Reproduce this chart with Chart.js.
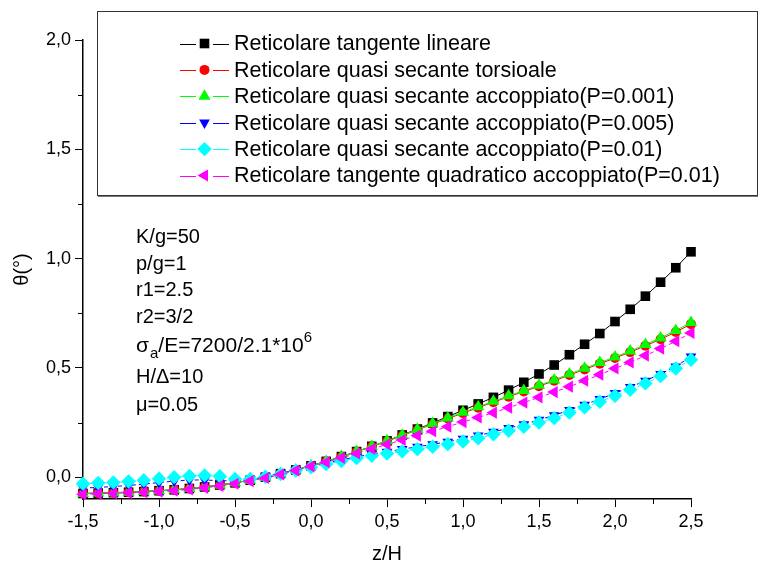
<!DOCTYPE html>
<html>
<head>
<meta charset="utf-8">
<script src="https://cdn.jsdelivr.net/npm/chart.js@4/dist/chart.umd.min.js"></script>
<style>
  html, body { margin: 0; padding: 0; background: #fff; }
  canvas { display: block; }
</style>
</head>
<body>
<canvas id="thetaChart" width="768" height="569"></canvas>
<script>
// z/H positions
const zH = [-1.5, -1.4, -1.3, -1.2, -1.1, -1.0, -0.9, -0.8, -0.7, -0.6, -0.5, -0.4, -0.3, -0.2, -0.1,
  0.0, 0.1, 0.2, 0.3, 0.4, 0.5, 0.6, 0.7, 0.8, 0.9, 1.0, 1.1, 1.2, 1.3, 1.4, 1.5,
  1.6, 1.7, 1.8, 1.9, 2.0, 2.1, 2.2, 2.3, 2.4, 2.5];

// theta (deg) per model
const tangenteLineare = [-0.075, -0.073, -0.071, -0.069, -0.066, -0.062, -0.058, -0.052, -0.045, -0.036, -0.026, -0.014, 0.000, 0.016, 0.033,
  0.052, 0.072, 0.094, 0.117, 0.141, 0.166, 0.193, 0.220, 0.248, 0.277, 0.306, 0.335, 0.365, 0.398, 0.434, 0.472,
  0.513, 0.560, 0.608, 0.657, 0.712, 0.768, 0.828, 0.892, 0.958, 1.031];
const secanteTorsionale = [-0.075, -0.073, -0.071, -0.069, -0.066, -0.062, -0.058, -0.052, -0.045, -0.036, -0.026, -0.014, 0.000, 0.016, 0.033,
  0.052, 0.072, 0.093, 0.116, 0.140, 0.164, 0.190, 0.216, 0.242, 0.268, 0.293, 0.318, 0.343, 0.368, 0.392, 0.416,
  0.441, 0.467, 0.493, 0.519, 0.545, 0.572, 0.601, 0.631, 0.664, 0.700];
const secanteP0001 = [-0.075, -0.073, -0.071, -0.069, -0.066, -0.062, -0.058, -0.052, -0.045, -0.036, -0.026, -0.014, 0.000, 0.016, 0.033,
  0.052, 0.072, 0.094, 0.117, 0.141, 0.166, 0.192, 0.218, 0.245, 0.271, 0.297, 0.322, 0.347, 0.372, 0.396, 0.420,
  0.445, 0.472, 0.498, 0.524, 0.550, 0.577, 0.607, 0.637, 0.671, 0.707];
const secanteP0005 = [-0.050, -0.047, -0.043, -0.038, -0.032, -0.025, -0.018, -0.013, -0.013, -0.016, -0.018, -0.010, 0.002, 0.016, 0.032,
  0.048, 0.064, 0.079, 0.093, 0.105, 0.116, 0.128, 0.139, 0.150, 0.162, 0.175, 0.190, 0.207, 0.224, 0.242, 0.262,
  0.283, 0.307, 0.331, 0.357, 0.384, 0.412, 0.441, 0.472, 0.506, 0.552];
const secanteP001 = [-0.030, -0.027, -0.024, -0.020, -0.014, -0.007, 0.000, 0.005, 0.008, 0.004, -0.008, -0.008, 0.002, 0.014, 0.030,
  0.045, 0.060, 0.074, 0.087, 0.098, 0.108, 0.118, 0.128, 0.139, 0.151, 0.163, 0.178, 0.196, 0.212, 0.230, 0.250,
  0.270, 0.295, 0.319, 0.345, 0.372, 0.400, 0.429, 0.462, 0.497, 0.537];
const quadraticoP001 = [-0.078, -0.076, -0.074, -0.072, -0.069, -0.066, -0.062, -0.056, -0.049, -0.040, -0.030, -0.018, -0.004, 0.012, 0.030,
  0.049, 0.068, 0.088, 0.108, 0.129, 0.150, 0.170, 0.190, 0.210, 0.231, 0.252, 0.273, 0.295, 0.318, 0.341, 0.365,
  0.389, 0.414, 0.441, 0.469, 0.497, 0.525, 0.556, 0.588, 0.622, 0.660];

const seriesNames = [
  "Reticolare tangente lineare",
  "Reticolare quasi secante torsioale",
  "Reticolare quasi secante accoppiato(P=0.001)",
  "Reticolare quasi secante accoppiato(P=0.005)",
  "Reticolare quasi secante accoppiato(P=0.01)",
  "Reticolare tangente quadratico accoppiato(P=0.01)"
];
const seriesValues = [tangenteLineare, secanteTorsionale, secanteP0001, secanteP0005, secanteP001, quadraticoP001];
const seriesColors = ["#000000", "#ff0000", "#00ff00", "#0000ff", "#00ffff", "#ff00ff"];
// marker: [pointStyle, radius, rotation]
const seriesMarkers = [["rect", 6.8, 0], ["circle", 5, 0], ["triangle", 7, 0], ["triangle", 6.2, 180], ["rectRot", 7.2, 0], ["triangle", 7, 270]];
const seriesDash = [[], [], [], [4, 3], [4, 3], [4, 3]];

const paramLines = ["K/g=50", "p/g=1", "r1=2.5", "r2=3/2", "SIGMA", "H/\u0394=10", "\u03bc=0.05"];

const FONT = "'Liberation Sans', Arial, sans-serif";
const commaLabel = v => v.toFixed(1).replace(".", ",");

function drawMarker(ctx, style, r, rot, x, y, color) {
  ctx.save();
  ctx.fillStyle = color;
  ctx.translate(x, y);
  ctx.rotate(rot * Math.PI / 180);
  ctx.beginPath();
  if (style === "circle") {
    ctx.arc(0, 0, r, 0, Math.PI * 2);
  } else if (style === "rect") {
    const s = r * Math.SQRT1_2;
    ctx.rect(-s, -s, 2 * s, 2 * s);
  } else if (style === "rectRot") {
    ctx.moveTo(0, -r); ctx.lineTo(r, 0); ctx.lineTo(0, r); ctx.lineTo(-r, 0);
  } else {
    const h = r * 1.5, w = r * Math.sqrt(3) / 2;
    ctx.moveTo(0, -r); ctx.lineTo(w, h - r); ctx.lineTo(-w, h - r);
  }
  ctx.closePath();
  ctx.fill();
  ctx.restore();
}

const minorTicks = {
  id: "minorTicks",
  afterDraw(chart) {
    const ctx = chart.ctx;
    ctx.save();
    ctx.strokeStyle = "#000";
    ctx.lineWidth = 1;
    const xs = chart.scales.x, ys = chart.scales.y;
    const xt = xs.ticks.map(t => t.value), yt = ys.ticks.map(t => t.value);
    ctx.beginPath();
    for (let i = 0; i < xt.length - 1; i++) {
      const px = Math.round(xs.getPixelForValue((xt[i] + xt[i + 1]) / 2)) + 0.5;
      ctx.moveTo(px, xs.top); ctx.lineTo(px, xs.top + 5);
    }
    for (let i = 0; i < yt.length - 1; i++) {
      const py = Math.round(ys.getPixelForValue((yt[i] + yt[i + 1]) / 2)) + 0.5;
      ctx.moveTo(ys.right, py); ctx.lineTo(ys.right - 5, py);
    }
    ctx.stroke();
    ctx.restore();
  }
};

const legendBox = {
  id: "legendBox",
  afterDraw(chart) {
    const ctx = chart.ctx;
    ctx.save();
    ctx.fillStyle = "#fff";
    ctx.fillRect(97, 11, 660, 184);
    ctx.strokeStyle = "#333";
    ctx.lineWidth = 1;
    ctx.strokeRect(97.5, 11.5, 660, 184);
    ctx.strokeStyle = "#777";
    ctx.beginPath();
    ctx.moveTo(98, 196.5); ctx.lineTo(758, 196.5);
    ctx.stroke();
    ctx.font = "21.5px " + FONT;
    ctx.textBaseline = "middle";
    seriesNames.forEach((name, i) => {
      const y = 43.5 + i * 26.4;
      const ly = Math.round(y) + 0.5;
      ctx.strokeStyle = seriesColors[i];
      ctx.beginPath();
      ctx.moveTo(180, ly); ctx.lineTo(196, ly);
      ctx.moveTo(213, ly); ctx.lineTo(229, ly);
      ctx.stroke();
      const m = seriesMarkers[i];
      drawMarker(ctx, m[0], m[1], m[2], 204.5, y, seriesColors[i]);
      ctx.fillStyle = "#000";
      ctx.fillText(name, 234, y + 1);
    });
    ctx.restore();
  }
};

const paramText = {
  id: "paramText",
  afterDraw(chart) {
    const ctx = chart.ctx;
    const ys = [237, 264, 290, 317, 346, 377, 405];
    ctx.save();
    ctx.fillStyle = "#000";
    ctx.textBaseline = "middle";
    paramLines.forEach((line, i) => {
      ctx.font = "20px " + FONT;
      let x = 136;
      if (line === "SIGMA") {
        ctx.font = "21px " + FONT;
        ctx.fillText("\u03c3", x, ys[i]); x += ctx.measureText("\u03c3").width + 1;
        ctx.font = "15px " + FONT;
        ctx.fillText("a", x, ys[i] + 8); x += ctx.measureText("a").width;
        ctx.font = "21px " + FONT;
        const main = "/E=7200/2.1*10";
        ctx.fillText(main, x, ys[i]); x += ctx.measureText(main).width;
        ctx.font = "15px " + FONT;
        ctx.fillText("6", x, ys[i] - 8);
      } else {
        ctx.fillText(line, x, ys[i]);
      }
    });
    ctx.restore();
  }
};

const datasets = seriesNames.map((name, i) => ({
  label: name,
  data: zH.map((z, k) => ({ x: z, y: seriesValues[i][k] })),
  borderColor: seriesColors[i],
  backgroundColor: seriesColors[i],
  borderWidth: 1,
  borderDash: seriesDash[i],
  pointStyle: seriesMarkers[i][0],
  pointRadius: seriesMarkers[i][1],
  pointRotation: seriesMarkers[i][2],
  pointBorderWidth: 0,
  pointBackgroundColor: seriesColors[i],
  tension: 0,
  clip: false,
  order: 6 - i
}));

new Chart(document.getElementById("thetaChart"), {
  type: "line",
  data: { datasets },
  plugins: [minorTicks, paramText, legendBox],
  options: {
    responsive: false,
    animation: false,
    devicePixelRatio: 1,
    layout: { padding: { top: 40, right: 77, left: 0, bottom: 0 } },
    plugins: { legend: { display: false }, tooltip: { enabled: false } },
    scales: {
      x: {
        type: "linear",
        min: -1.5, max: 2.5,
        afterFit: s => { s.height = 70; },
        border: { color: "#000", width: 1.5 },
        grid: { drawOnChartArea: false, drawTicks: true, tickLength: 8, color: "#000", tickWidth: 1 },
        ticks: { stepSize: 0.5, color: "#000", padding: 4, maxRotation: 0, font: { family: FONT, size: 18 }, callback: commaLabel },
        title: { display: true, text: "z/H", color: "#000", font: { family: FONT, size: 20 }, padding: { top: 0, bottom: 3 } }
      },
      y: {
        type: "linear",
        min: -0.1, max: 2.0,
        afterFit: s => { s.width = 83; },
        border: { color: "#000", width: 1.5 },
        grid: { drawOnChartArea: false, drawTicks: true, tickLength: 8, color: "#000", tickWidth: 1 },
        ticks: { stepSize: 0.5, includeBounds: false, color: "#000", padding: 4, font: { family: FONT, size: 18 }, callback: commaLabel },
        title: { display: true, text: "\u03b8(\u00b0)", color: "#000", font: { family: FONT, size: 20 }, padding: { top: 10, bottom: 0 } }
      }
    }
  }
});
</script>
</body>
</html>
